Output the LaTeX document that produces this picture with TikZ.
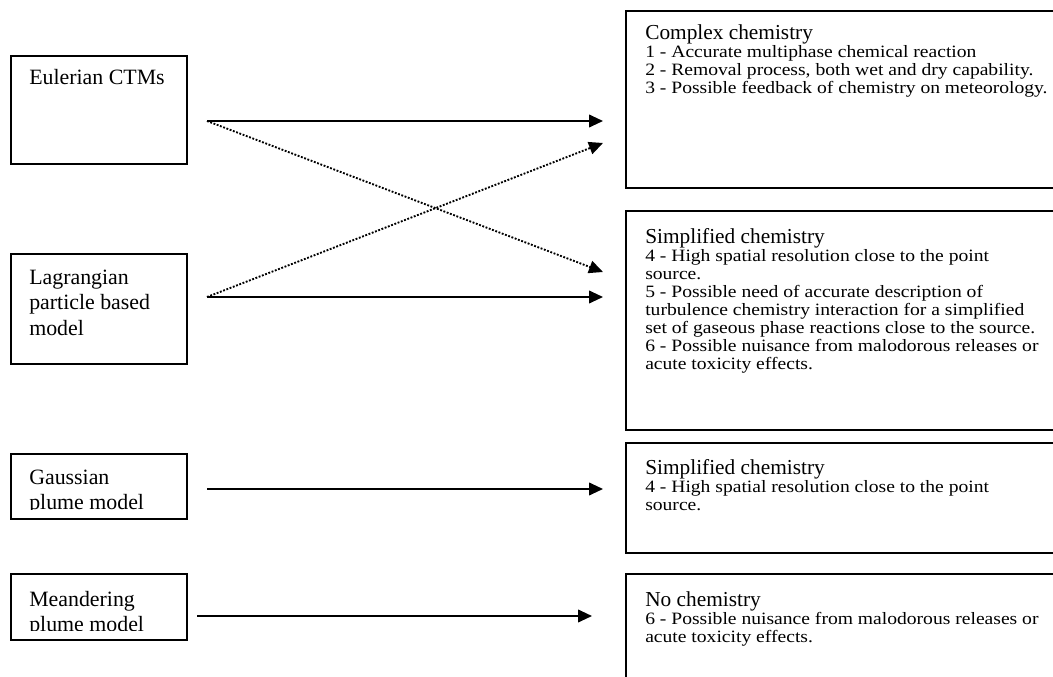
\documentclass[tikz,border=0pt]{standalone}
\usepackage{fontspec}
\setmainfont{Liberation Serif}
\newfontfamily\itemfont[FakeStretch=1.13]{Liberation Serif}
\usetikzlibrary{arrows.meta}
\newcommand{\boxhead}[1]{{\rmfamily\fontsize{16}{13.5}\selectfont #1}}

\begin{document}
\begin{tikzpicture}[x=0.75pt, y=-0.75pt,
    leftbox/.style={draw=black, line width=1.3pt, rectangle, inner sep=0pt, anchor=north west, minimum width=132pt},
    rightbox/.style={draw=black, line width=1.3pt, rectangle, inner sep=0pt, anchor=north west, minimum width=330pt},
    lefttext/.style={anchor=north west, inner sep=0pt, align=left, font=\fontsize{16.4}{18.9}\selectfont},
    righttext/.style={anchor=north west, inner sep=0pt, align=left, font=\itemfont\fontsize{13}{13.5}\selectfont},
    link/.style={->, line width=1.4pt, >={Triangle[length=10.5pt, width=9.5pt]}},
    maybe/.style={link, dash pattern=on 1.4pt off 1.2pt}]
    \clip (0,0) rectangle (1053,677);

    \node (Euler) [leftbox, minimum height=81pt] at (10,55) {};
    \node (Lagrange) [leftbox, minimum height=82.5pt] at (10,253) {};
    \node (Gauss) [leftbox, minimum height=48.75pt] at (10,453) {};
    \node (Meander) [leftbox, minimum height=49.5pt] at (10,573) {};

    \node (EulerText) [lefttext] at (29,69) {Eulerian CTMs};
    \node (LagrangeText) [lefttext] at (29,270) {Lagrangian\\ particle based\\ model};
    \begin{scope}
        \clip (Gauss.north west) rectangle ([shift={(0,-10)}]Gauss.south east);
        \node (GaussText) [lefttext] at (29,470) {Gaussian\\ plume model};
    \end{scope}
    \begin{scope}
        \clip (Meander.north west) rectangle ([shift={(0,-10)}]Meander.south east);
        \node (MeanderText) [lefttext] at (29,591) {Meandering\\ plume model};
    \end{scope}

    \node (Complex) [rightbox, minimum height=132.75pt] at (625,10) {};
    \node (Simplified) [rightbox, minimum height=164.25pt] at (625,210) {};
    \node (SimplifiedB) [rightbox, minimum height=82.5pt] at (625,442) {};
    \node (NoChem) [rightbox, minimum height=90pt] at (625,573) {};

    \node (ComplexText) [righttext] at (645,24)
    {
        \boxhead{Complex chemistry}\\
        1 - Accurate multiphase chemical reaction\\
        2 - Removal process, both wet and dry capability.\\
        3 - Possible feedback of chemistry on meteorology.
    };
    \node (SimplifiedText) [righttext] at (645,228)
    {
        \boxhead{Simplified chemistry}\\
        4 - High spatial resolution close to the point\\
        source.\\
        5 - Possible need of accurate description of\\
        turbulence chemistry interaction for a simplified\\
        set of gaseous phase reactions close to the source.\\
        6 - Possible nuisance from malodorous releases or\\
        acute toxicity effects.
    };
    \node (SimplifiedBText) [righttext] at (645,459)
    {
        \boxhead{Simplified chemistry}\\
        4 - High spatial resolution close to the point\\
        source.
    };
    \node (NoChemText) [righttext] at (645,591)
    {
        \boxhead{No chemistry}\\
        6 - Possible nuisance from malodorous releases or\\
        acute toxicity effects.
    };

    \coordinate (EulerOut) at (207,121);
    \coordinate (LagrangeOut) at (207,297);
    \coordinate (GaussOut) at (207,489);
    \coordinate (MeanderOut) at (197,616);
    \coordinate (ComplexIn) at (603,121);
    \coordinate (ComplexInB) at (603,143);
    \coordinate (SimplifiedIn) at (603,272);
    \coordinate (SimplifiedInB) at (603,297);
    \coordinate (SimplifiedBIn) at (603,489);
    \coordinate (NoChemIn) at (592,616);

    \draw[link]  (EulerOut) -- (ComplexIn);
    \draw[maybe] (EulerOut) -- (SimplifiedIn);
    \draw[maybe] (LagrangeOut) -- (ComplexInB);
    \draw[link]  (LagrangeOut) -- (SimplifiedInB);
    \draw[link]  (GaussOut) -- (SimplifiedBIn);
    \draw[link]  (MeanderOut) -- (NoChemIn);
\end{tikzpicture}
\end{document}
